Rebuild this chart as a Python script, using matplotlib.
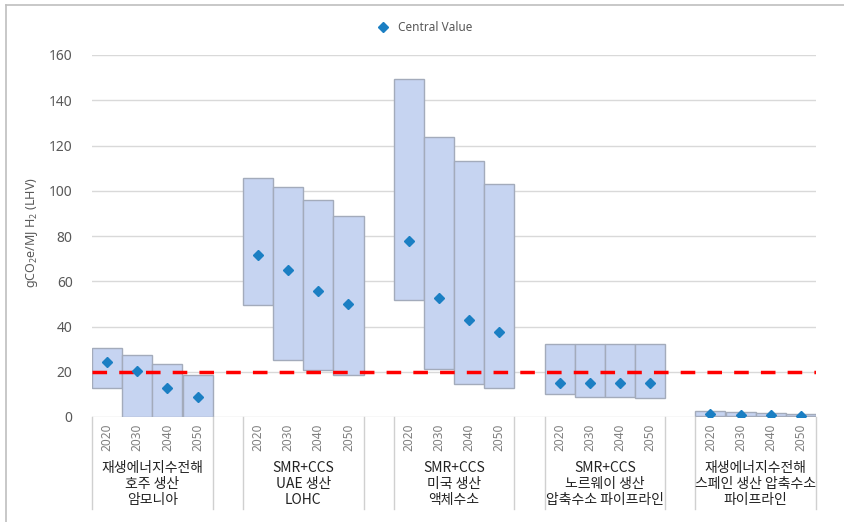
import numpy as np
import matplotlib
matplotlib.use("Agg")
import matplotlib.pyplot as plt
from matplotlib.lines import Line2D

plt.rcParams['font.family'] = ['Noto Sans CJK KR', 'DejaVu Sans']
plt.rcParams['mathtext.default'] = 'regular'

# data
groups = ['재생에너지수전해\n호주 생산\n암모니아',
          'SMR+CCS\nUAE 생산\nLOHC',
          'SMR+CCS\n미국 생산\n액체수소',
          'SMR+CCS\n노르웨이 생산\n압축수소 파이프라인',
          '재생에너지수전해\n스페인 생산 압축수소\n파이프라인']
years = ['2020', '2030', '2040', '2050']

low = [[12.8, 0.0, 0.0, 0.0],
       [49.5, 25.2, 20.8, 18.6],
       [51.7, 21.2, 14.6, 12.8],
       [10.2, 8.8, 8.8, 8.4],
       [0.4, 0.4, 0.3, 0.3]]
high = [[30.5, 27.4, 23.4, 18.6],
        [105.8, 101.8, 96.0, 88.8],
        [149.6, 123.7, 113.1, 103.0],
        [32.3, 32.3, 32.3, 32.3],
        [2.8, 2.1, 1.6, 1.2]]
central = [[24.2, 20.3, 12.8, 8.8],
           [71.6, 65.0, 55.7, 49.9],
           [77.8, 52.4, 42.9, 37.6],
           [15.0, 15.0, 15.0, 15.0],
           [1.3, 1.0, 0.9, 0.6]]
target = 20

box_fill = '#c6d4f1'
box_edge = '#a3abbb'
dot_col = '#1b7fc3'
grey = '#595959'

fig = plt.figure(figsize=(8.44, 5.22), dpi=100)
ax = fig.add_axes([92 / 844, 1 - 417 / 522, 724 / 844, 362 / 522])

nslot = len(groups) * 5 - 1
for g in range(len(groups)):
    start = g * 5
    xs = np.arange(start, start + 4) + 0.5
    lo = np.array(low[g])
    hi = np.array(high[g])
    ax.bar(xs, hi - lo, bottom=lo, width=1.0, color=box_fill,
           edgecolor=box_edge, linewidth=1.0, zorder=2)
    ax.plot(xs, central[g], 'D', color=dot_col, ms=5, zorder=4)
    # category labels under the axis
    tr = ax.get_xaxis_transform()
    for x, yr in zip(xs, years):
        ax.text(x, -0.018, yr, transform=tr, rotation=90, ha='center',
                va='top', fontsize=8.5, color='#7f7f7f', family='Noto Sans')
    ax.text(start + 2, -0.185, groups[g], transform=tr, ha='center',
            va='center', fontsize=10, color='#222222', linespacing=1.15)
    for xb in (start, start + 4):
        ax.plot([xb, xb], [0, -0.255], transform=tr, color='#d0d0d0',
                lw=1.0, clip_on=False)

ax.axhline(target, color='#ff0000', lw=2.5, ls=(0, (4.2, 3.5)), zorder=3)

ax.set_xlim(0, nslot)
ax.set_ylim(0, 160)
ax.set_yticks(np.arange(0, 161, 20))
ax.set_xticks([])
ax.grid(axis='y', color='#d9d9d9', lw=1.0, zorder=0)
ax.set_axisbelow(True)
for s in ax.spines.values():
    s.set_visible(False)
ax.tick_params(axis='y', length=0, pad=14, labelsize=10, labelcolor=grey)
for lab in ax.get_yticklabels():
    lab.set_family('Noto Sans')
ax.set_ylabel('gCO$_2$e/MJ H$_2$ (LHV)', color=grey, fontsize=9,
              family='Noto Sans')
ax.yaxis.set_label_coords(-0.072, 0.51)

handle = Line2D([], [], marker='D', color=dot_col, ls='none', ms=5)
fig.legend([handle], ['Central Value'], loc='center',
           bbox_to_anchor=(0.5, 0.948), frameon=False, handletextpad=0.3,
           prop={'family': 'Noto Sans', 'size': 8.5}, labelcolor=grey)

# outer chart frame
fig.add_artist(Line2D([6 / 844, 1.0], [1 - 5 / 522] * 2, color='#bfbfbf', lw=1.2))
fig.add_artist(Line2D([6 / 844] * 2, [0.0, 1 - 5 / 522], color='#bfbfbf', lw=1.2))

fig.savefig('out.png', dpi=100)
